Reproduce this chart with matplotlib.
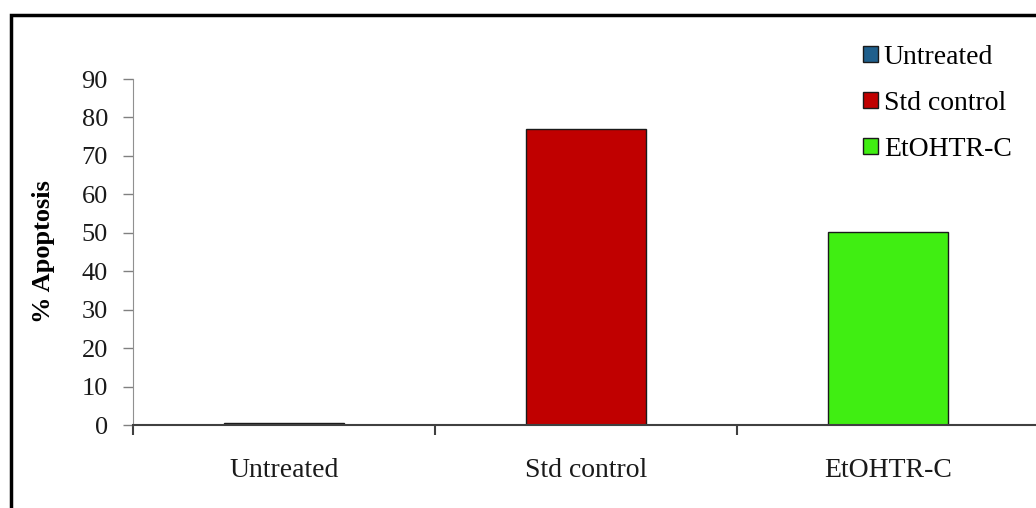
import matplotlib
matplotlib.use("Agg")
import matplotlib.pyplot as plt
from matplotlib.patches import Rectangle

groups = ["Untreated", "Std control", "EtOHTR-C"]
apoptosis = [0.5, 77.0, 50.2]
colors = ["#1f5f8c", "#c00000", "#40ee12"]
y_ticks = [0, 10, 20, 30, 40, 50, 60, 70, 80, 90]

plt.rcParams["font.family"] = ["Liberation Serif", "DejaVu Serif"]

fig = plt.figure(figsize=(10.36, 5.08), dpi=100)
ax = fig.add_axes([133 / 1036, 83 / 508, 906 / 1036, 346 / 508])

pos = list(range(len(groups)))
for i in pos:
    ax.bar(i, apoptosis[i], width=0.4, color=colors[i], edgecolor="#1a1a1a",
           linewidth=1.0, label=groups[i], zorder=3)

ax.set_xlim(-0.5, len(groups) - 0.5)
ax.set_ylim(0, 90)
ax.set_yticks(y_ticks)
ax.set_xticks(pos)
ax.set_xticklabels(groups, fontsize=20, color="#1a1a1a")
ax.set_xticks([p + 0.5 for p in [-1] + pos], minor=True)
ax.tick_params(axis="x", which="major", length=0, pad=24)
ax.tick_params(axis="x", which="minor", length=7, width=1.5, color="#404040")
ax.tick_params(axis="y", length=7, width=1.0, color="#808080", labelsize=19,
               labelcolor="#1a1a1a", pad=11)

for side in ["top", "right"]:
    ax.spines[side].set_visible(False)
ax.spines["left"].set_color("#909090")
ax.spines["bottom"].set_color("#404040")
ax.spines["bottom"].set_linewidth(1.5)
ax.spines["bottom"].set_zorder(4)

ax.set_ylabel("% Apoptosis", fontsize=19, fontweight="bold", labelpad=19)

ax.legend(loc="upper left", bbox_to_anchor=(849 / 1036, 1 - 31 / 508),
          bbox_transform=fig.transFigure, frameon=False, fontsize=20,
          handlelength=0.55, handleheight=0.5, handletextpad=0.2,
          labelspacing=0.75, borderpad=0)

# outer frame around the whole chart
fig.patches.append(Rectangle((11 / 1036, -0.1), 1.2, 1.1 - 15 / 508,
                             transform=fig.transFigure, fill=False,
                             edgecolor="black", linewidth=2.5))

fig.savefig("out.png", dpi=100)
